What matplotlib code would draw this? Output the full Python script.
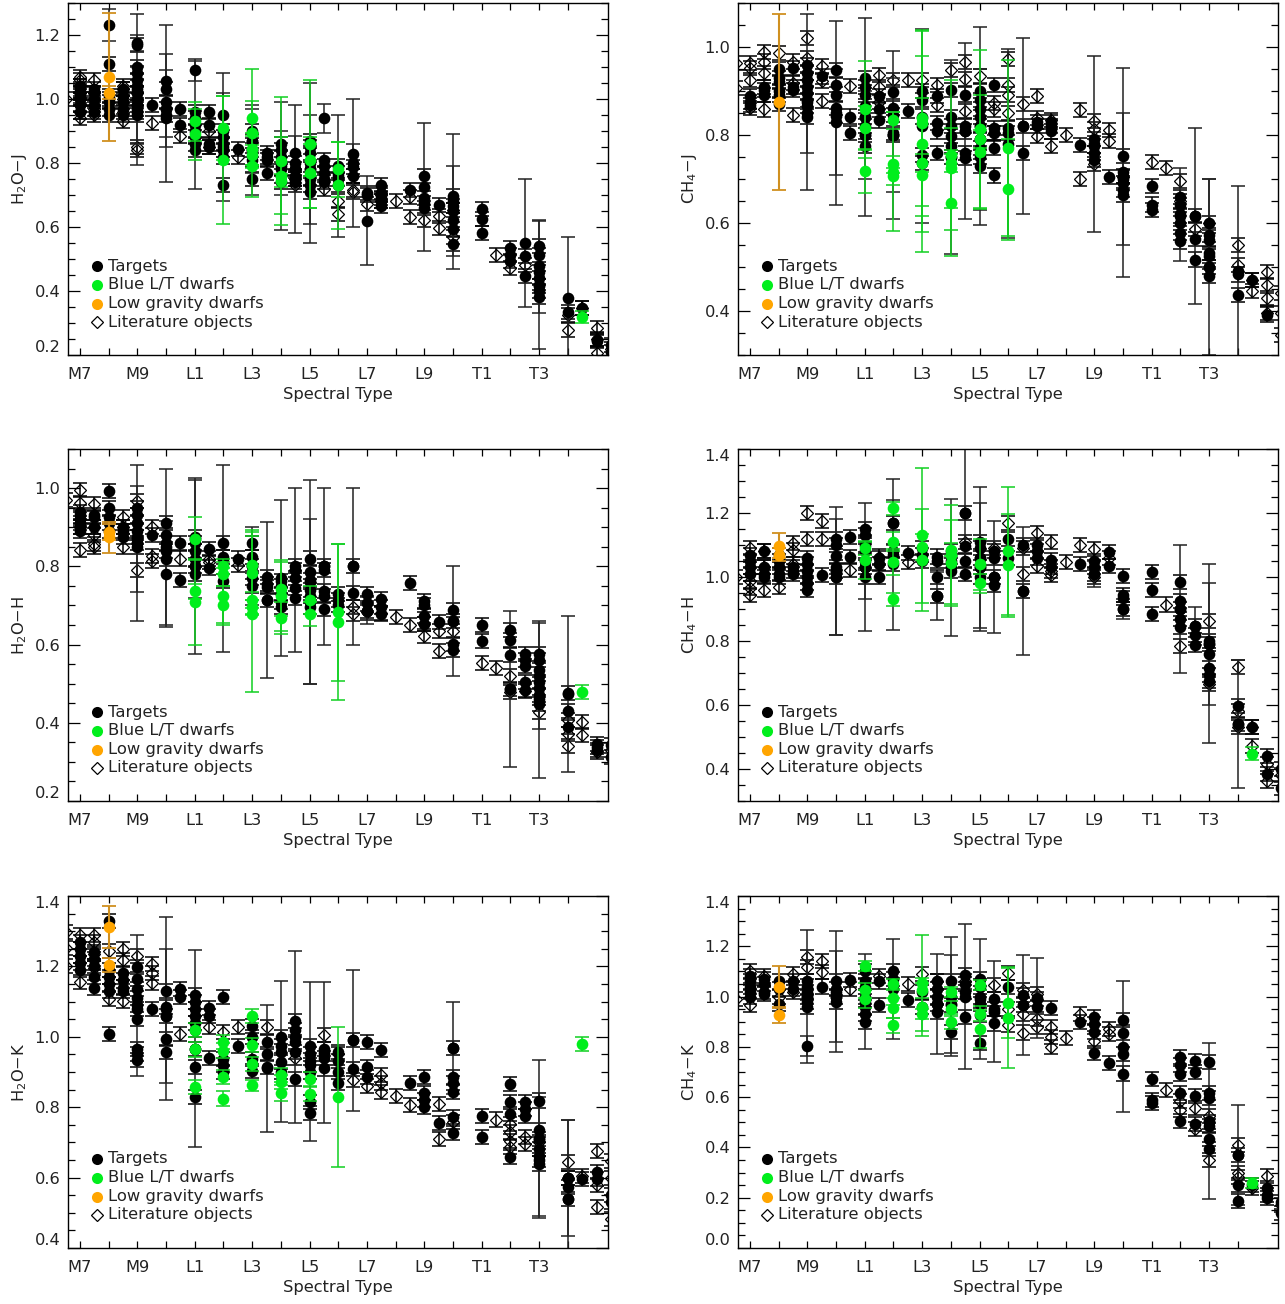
import matplotlib
matplotlib.use("Agg")
import matplotlib.pyplot as plt

plt.rcParams["mathtext.default"] = "regular"
plt.rcParams["font.family"] = "DejaVu Sans"

# spectral types: M7 = 0, M8 = 1 ... L0 = 3 ... T0 = 13
SPT_LABELS = ["M7", "", "M9", "", "L1", "", "L3", "", "L5", "", "L7", "", "L9", "", "T1", "", "T3", ""]
LEGEND_LABELS = ["Targets", "Blue L/T dwarfs", "Low gravity dwarfs", "Literature objects"]

# ---- H2O-J ----
H2OJ_T_SPT = [0, .5, 1, 1.5, 2, 2.5, 3, 3.5, 4, 4.5, 5, 5.5, 6, 6.5, 7, 7.5, 8, 8.5, 9, 9.5, 10, 10.5, 11.5, 12, 12.5, 13, 14, 15, 15.5, 16, 17, 17.5, 18, 18.5]
H2OJ_T_VAL = [[.96, .98, 1.0, 1.01, 1.02, 1.03, 1.04], [.96, .98, 1.0, 1.02, 1.03], [1.11, .95, .97, .99, 1.0, 1.01], [.95, .97, .99, 1.01, 1.03],
              [1.17, 1.10, 1.08, 1.06, 1.04, 1.02, 1.0, .98, .97, .96, .95], [.98], [1.03, .99, .97, .95], [.97, .92],
              [.96, .94, .90, .88, .86, .84], [.96, .92, .86, .85], [.90, .88, .86, .84, .82, .73], [.845], [.90, .87, .84, .81, .75], [.83, .82, .81, .77],
              [.86, .84, .82, .78, .76, .74], [.80, .78, .76, .75, .74], [.87, .85, .83, .78, .75, .73, .71], [.81, .79, .77, .75, .74], [.79, .77, .75, .73],
              [.7875, .76], [.706, .70], [.73, .705, .69, .68, .665], [.717], [.758, .69, .675, .66], [.67], [.696, .665, .623, .594, .548], [.656, .626, .58],
              [.534, .513, .493], [.51, .446], [.542, .513, .46, .44, .415, .40, .38], [.333], [.347], [.243, .248], [.23, .21]]
H2OJ_TW_X = [1, 2, 2, 2, 3, 3, 3, 4, 4, 5, 5, 6, 6, 7, 7, 7.5, 7.5, 8, 8, 8.5, 9, 9.5, 9.5, 10, 12, 13, 13, 15.5, 16, 16, 17]
H2OJ_TW_Y = [1.23, 1.03, 1.175, .98, 1.055, .94, .97, 1.09, .92, .95, .85, .87, .84, .79, .80, .78, .83, .80, .78, .94, .76, .828, .80, .62, .725, .68, .65, .55, .42, .477, .378]
H2OJ_TW_E = [.05, .235, .025, .12, .175, .20, .12, .035, .20, .13, .17, .10, .14, .20, .10, .20, .055, .25, .17, .045, .19, .03, .20, .14, .20, .21, .14, .20, .20, .145, .19]
H2OJ_B_X = [4, 4, 5, 5, 6, 6, 6, 6, 6, 7, 7, 7, 8, 8, 8, 9, 9, 17.5]
H2OJ_B_Y = [.93, .89, .91, .81, .94, .895, .845, .825, .79, .805, .76, .745, .86, .81, .77, .78, .73, .319]
H2OJ_B_E = [.06, .08, .10, .20, .155, .10, .05, .03, .095, .20, .12, .02, .20, .05, .11, .085, .135, .02]
H2OJ_G_X = [1, 1]
H2OJ_G_Y = [1.07, 1.02]
H2OJ_G_E = [.20, .02]
H2OJ_L_SPT = [-.5, 0, .5, 1.5, 2, 2.5, 3.5, 4.5, 5.5, 7.5, 8.5, 9, 9.5, 10, 10.5, 11, 11.5, 12, 12.5, 13, 14.5, 15, 15.5, 17, 17.5, 18, 18.5]
H2OJ_L_VAL = [[1.0], [.94, .96, .98, 1.0, 1.02, 1.04, 1.06, 1.07], [.95, .97, 1.0, 1.02, 1.06], [.93, .96, 1.0, 1.03, 1.04], [.85, .84, 1.02], [.925], [.885], [.90, .85],
              [.82], [.75, .73], [.72], [.68, .64], [.758, .717, .71], [.673], [.70, .68], [.68], [.694, .632], [.623], [.633, .597], [.654, .57], [.513], [.472], [.482],
              [.326, .279], [.347], [.284, .206, .25], [.22]]

# ---- CH4-J ----
CH4J_T_SPT = [0, .5, 1, 1.5, 2, 2.5, 3, 3.5, 4, 4.5, 5, 5.5, 6, 6.5, 7, 7.5, 8, 8.5, 9, 9.5, 10, 10.5, 11.5, 12, 12.5, 13, 14, 15, 15.5, 16, 17, 17.5, 18]
CH4J_T_VAL = [[.888, .876, .869], [.903, .89, .91], [.95, .93, .92, .90, .89, .87], [.952, .903, .91], [.96, .94, .925, .91, .895, .88, .865, .842], [.933],
              [.947, .914, .892, .861, .844], [.842, .805], [.93, .91, .89, .865, .84, .82, .80, .775], [.889, .858, .833], [.897, .861, .845, .805, .80], [.855],
              [.90, .88, .842, .755, .736], [.889, .827, .808, .76], [.903, .84, .82, .797, .774, .75], [.892, .821, .808, .76, .748], [.90, .88, .86, .84, .82, .79, .77, .75, .73],
              [.914, .816, .805, .77, .708], [.816, .805], [.82, .759], [.82, .83], [.808, .82, .83], [.778], [.79, .774, .76, .744], [.705], [.752, .706, .69, .675, .664],
              [.685, .642, .63], [.66, .64, .615, .60, .577, .558], [.615, .564, .517], [.573, .562, .532, .525, .50, .48], [.483, .437], [.471], [.392]]
CH4J_TW_X = [2, 2, 3, 3, 4, 4, 5, 5, 6, 7, 7.5, 8, 8, 9, 9.5, 12, 13, 13, 15, 15.5, 16, 16, 17]
CH4J_TW_Y = [.875, .85, .85, .83, .84, .80, .80, .80, .82, .75, .81, .82, .79, .78, .82, .78, .715, .70, .62, .616, .50, .60, .49]
CH4J_TW_E = [.20, .09, .21, .12, .225, .10, .19, .13, .22, .22, .20, .225, .16, .215, .20, .20, .237, .15, .106, .20, .20, .10, .195]
CH4J_B_X = [4, 4, 4, 5, 5, 5, 5, 6, 6, 6, 6, 6, 7, 7, 7, 7, 8, 8, 8, 9, 9]
CH4J_B_Y = [.858, .816, .719, .833, .733, .717, .706, .839, .827, .78, .736, .708, .755, .736, .725, .645, .814, .791, .762, .77, .677]
CH4J_B_E = [.11, .05, .05, .02, .02, .135, .02, .20, .21, .20, .02, .175, .17, .02, .09, .12, .18, .02, .13, .20, .115]
CH4J_G_X = [1]
CH4J_G_Y = [.874]
CH4J_G_E = [.20]
CH4J_L_SPT = [-.5, 0, .5, 1, 1.5, 2, 2.5, 3.5, 4.5, 5, 5.5, 6, 6.5, 7, 7.5, 8, 8.5, 9, 9.5, 10, 10.5, 11, 11.5, 12, 12.5, 13, 14, 14.5, 15, 15.5, 16, 17, 17.5, 18, 18.5]
CH4J_L_VAL = [[.964, .906], [.964, .926, .952, .861], [.988, .967, .941, .858], [.986], [.967, .918, .846], [1.02, .975], [.956, .922, .877], [.911], [.937, .91, .875], [.924], [.924],
              [.926], [.914, .869], [.947], [.966, .927, .854], [.935], [.873, .858, .805], [.973, .914, .892, .85], [.87], [.888, .839, .797], [.774, .835], [.80], [.856, .70],
              [.831, .814, .735], [.812, .786], [.705], [.739], [.725], [.695, .651], [.586], [.60], [.549, .505], [.47, .445], [.488, .458, .43, .395], [.44, .395, .346]]

# ---- H2O-H ----
H2OH_T_SPT = [0, .5, 1, 1.5, 2, 2.5, 3, 3.5, 4, 4.5, 5, 5.5, 6, 6.5, 7, 7.5, 8, 8.5, 9, 9.5, 10, 10.5, 11.5, 12, 12.5, 13, 14, 15, 15.5, 16, 17, 18, 18.5]
H2OH_T_VAL = [[.94, .93, .92, .91, .90, .89], [.93, .925, .90], [.993, .95, .925, .91, .89], [.89, .875, .90], [.95, .93, .91, .89, .875, .86, .85], [.88],
              [.91, .88, .86, .84, .82], [.86, .766], [.875, .86, .84, .82, .80, .78], [.844, .797], [.859, .825, .763], [.82], [.859, .825, .80, .77, .75], [.772, .755, .746, .714],
              [.763, .75, .73, .71, .695], [.80, .77, .745, .72], [.82, .785, .765, .74, .725, .695], [.80, .79, .738, .725, .69], [.73, .715, .70], [.80, .731], [.729, .705, .687],
              [.717, .695, .678], [.757], [.712, .70, .674, .653], [.657], [.689, .661, .602, .585], [.65, .61], [.638, .612, .574, .487], [.576, .56, .546, .504, .485],
              [.576, .56, .535, .504, .49, .47, .449], [.476, .429, .389], [.346, .33, .338], [.342, .312]]
H2OH_TW_X = [2, 2, 3, 3, 4, 4, 5, 6, 6.5, 7, 7.5, 8, 8, 8.5, 9.5, 10, 13, 15, 16, 16, 17]
H2OH_TW_Y = [.86, .87, .85, .78, .80, .87, .82, .80, .714, .77, .79, .76, .71, .80, .80, .687, .66, .487, .46, .52, .474]
H2OH_TW_E = [.20, .135, .20, .135, .225, .15, .24, .10, .20, .20, .21, .26, .21, .20, .20, .035, .14, .20, .20, .135, .20]
H2OH_B_X = [4, 4, 4, 5, 5, 5, 5, 6, 6, 6, 6, 6, 7, 7, 7, 8, 8, 9, 9, 17.5]
H2OH_B_Y = [.87, .736, .71, .80, .78, .725, .70, .804, .782, .714, .695, .678, .742, .725, .668, .714, .678, .683, .657, .478]
H2OH_B_E = [.055, .02, .11, .02, .03, .07, .05, .09, .105, .02, .02, .20, .07, .09, .04, .035, .03, .175, .20, .018]
H2OH_G_X = [1, 1]
H2OH_G_Y = [.887, .874]
H2OH_G_E = [.02, .04]
H2OH_L_SPT = [-.5, 0, .5, 1.5, 2, 2.5, 3.5, 4.5, 5.5, 7.5, 9.5, 10, 10.5, 11, 11.5, 12, 12.5, 13, 14, 14.5, 15, 15.5, 16, 17, 17.5, 18, 18.5]
H2OH_L_VAL = [[.97], [.995, .963, .90, .842], [.96, .90, .88, .857, .85], [.925, .90, .85], [.968, .79], [.90, .827, .814], [.82], [.82, .81], [.804], [.79], [.695, .678], [.682],
              [.68], [.67], [.649], [.653, .623], [.634, .583], [.634], [.553], [.54], [.52, .478], [.482], [.427], [.406, .372, .34], [.402, .368], [.325], [.33]]

# ---- CH4-H ----
CH4H_T_SPT = [0, .5, 1, 1.5, 2, 2.5, 3, 3.5, 4, 4.5, 5, 5.5, 6, 6.5, 7, 7.5, 8, 8.5, 9, 9.5, 10, 10.5, 11.5, 12, 12.5, 13, 14, 15, 15.5, 16, 17, 17.5, 18, 18.5]
CH4H_T_VAL = [[1.07, 1.05, 1.03, 1.01], [1.08, 1.01, 1.0, 1.03], [1.07, 1.05, 1.03, 1.01, 1.0], [1.02, 1.01, 1.03], [1.06, 1.04, 1.02, 1.0, .98, .96], [1.007], [1.12, 1.10, 1.065, 1.03, 1.02, 1.0],
              [1.125, 1.062], [1.15, 1.13, 1.10, 1.08, 1.05, 1.03, 1.0], [1.06, 1.04, 1.0], [1.17, 1.08, 1.04], [1.075], [1.09, 1.07, 1.05], [1.064, 1.05, 1.0, .942],
              [1.08, 1.05, 1.02], [1.20, 1.096, 1.05, 1.01], [1.11, 1.09, 1.06, 1.03, 1.0], [1.08, 1.06, 1.0, .976], [1.12, 1.06], [1.10, .957], [1.10, 1.08, 1.06], [1.054, 1.03],
              [1.04], [1.05, 1.03, 1.01], [1.078, 1.033], [1.004, .945, .935, .90], [1.016, .96, .885], [.983, .924, .90, .87, .844], [.846, .82, .789],
              [.80, .79, .716, .695, .675], [.597, .54], [.53], [.44, .384], [.40, .342]]
CH4H_TW_X = [3, 3, 4, 4, 5, 5, 6.5, 7, 7.5, 8, 8, 8.5, 9.5, 12, 13, 15, 15.5, 16, 16, 17]
CH4H_TW_Y = [1.02, 1.0, 1.03, 1.03, 1.07, 1.17, .94, 1.03, 1.20, 1.06, 1.03, 1.0, .957, 1.01, .90, .90, .846, .79, .76, .54]
CH4H_TW_E = [.20, .18, .20, .10, .235, .07, .075, .215, .20, .22, .20, .175, .20, .04, .03, .20, .06, .19, .28, .20]
CH4H_B_X = [4, 4, 5, 5, 5, 5, 6, 6, 6, 7, 7, 7, 8, 8, 9, 9, 17.5]
CH4H_B_Y = [1.09, 1.054, 1.215, 1.11, 1.047, .93, 1.13, 1.094, 1.054, 1.085, 1.07, 1.044, 1.04, .98, 1.082, 1.036, .448]
CH4H_B_E = [.02, .06, .02, .03, .04, .02, .21, .04, .16, .02, .155, .135, .08, .03, .20, .16, .02]
CH4H_G_X = [1, 1]
CH4H_G_Y = [1.098, 1.07]
CH4H_G_E = [.04, .02]
CH4H_L_SPT = [-.5, 0, .5, 1, 1.5, 2, 2.5, 3.5, 4.5, 5.5, 7.5, 8.5, 9, 9.5, 10, 10.5, 11, 11.5, 12, 12.5, 14.5, 15, 16, 17, 17.5, 18, 18.5]
CH4H_L_VAL = [[1.0], [1.09, .986, .966, .945], [1.08, 1.03, .96], [.97], [1.106, 1.085, 1.04], [1.20, 1.12], [1.176, 1.12], [1.023], [1.064], [1.047], [1.11], [1.09], [1.168], [1.09, 1.01],
              [1.137, 1.033], [1.11, 1.02, 1.007], [1.047], [1.10], [1.088, 1.0], [1.06], [.914], [.785], [.862, .665], [.72, .581, .53], [.53, .472], [.415, .363], [.38]]

# ---- H2O-K ----
H2OK_T_SPT = [0, .5, 1, 1.5, 2, 2.5, 3, 3.5, 4, 4.5, 5, 5.5, 6, 6.5, 7, 7.5, 8, 8.5, 9, 9.5, 10, 10.5, 11.5, 12, 12.5, 13, 14, 15, 15.5, 16, 17, 17.5, 18, 18.5]
H2OK_T_VAL = [[1.27, 1.25, 1.23, 1.21, 1.19], [1.24, 1.22, 1.20, 1.17, 1.14], [1.33, 1.19, 1.17, 1.15, 1.13, 1.009], [1.18, 1.16, 1.14, 1.13],
              [1.198, 1.165, 1.135, 1.11, 1.08, 1.05, .966, .95, .933], [1.08], [1.13, 1.084, 1.06, .994, .958], [1.136, 1.113],
              [1.12, 1.10, 1.08, 1.06, 1.04, 1.02, .966, .914, .829], [1.082, 1.059, .94], [1.113, .937, .92, .90], [.973], [1.03, 1.0, .937, .904], [.985, .95, .914],
              [1.0, .975, .928, .90], [1.046, 1.02, .985, .956, .88], [.975, .95, .92, .90, .814, .784], [.966, .94, .91], [.956, .93, .90, .87], [.99, .909], [.985, .914, .885],
              [.963], [.869], [.885, .84, .82, .80], [.756], [.968, .885, .87, .843, .772, .727], [.776, .715], [.865, .814, .781, .658], [.814, .795, .776],
              [.819, .734, .71, .682, .65, .64], [.60, .573, .54], [.597], [.616, .595], [.53, .55]]
H2OK_TW_X = [2, 3, 3, 4, 6.5, 7, 7.5, 8, 8.5, 9.5, 13, 16, 16, 17, 17]
H2OK_TW_Y = [1.09, 1.08, 1.06, .966, .91, .958, 1.0, .93, .955, .99, .968, .71, .66, .60, .54]
H2OK_TW_E = [.20, .26, .19, .28, .18, .20, .245, .225, .20, .20, .13, .225, .17, .165, .225]
H2OK_B_X = [4, 4, 4, 5, 5, 5, 5, 6, 6, 6, 6, 7, 7, 7, 8, 8, 9, 17.5]
H2OK_B_Y = [1.02, .964, .857, .985, .961, .885, .824, 1.06, .977, .923, .862, .892, .871, .841, .88, .838, .829, .98]
H2OK_B_E = [.02, .02, .02, .02, .02, .02, .022, .02, .02, .02, .015, .02, .02, .022, .02, .02, .20, .02]
H2OK_G_X = [1, 1]
H2OK_G_Y = [1.313, 1.205]
H2OK_G_E = [.06, .02]
H2OK_L_SPT = [-.5, 0, .5, 1, 1.5, 2, 2.5, 3.5, 4.5, 5, 5.5, 6.5, 7.5, 8.5, 9, 9.5, 10, 10.5, 11, 11.5, 12.5, 13, 14.5, 15, 15.5, 16, 17, 17.5, 18, 18.5]
H2OK_L_VAL = [[1.297, 1.252, 1.20], [1.288, 1.155], [1.288, 1.27, 1.235, 1.195], [1.245, 1.108], [1.25, 1.217, 1.103], [1.229], [1.207, 1.18, 1.153], [1.009], [1.027], [1.013], [1.027], [1.029], [.94],
              [1.006], [.95], [.876], [.86], [.892, .87, .843], [.833], [.805], [.81, .71], [.758], [.765], [.753, .73, .705, .687], [.715, .696], [.70], [.644, .60], [.605], [.675, .578, .516], [.648, .60, .483]]

# ---- CH4-K ----
CH4K_T_SPT = [0, .5, 1, 1.5, 2, 2.5, 3, 3.5, 4, 4.5, 5, 5.5, 6, 6.5, 7, 7.5, 8, 8.5, 9, 9.5, 10, 10.5, 11.5, 12, 12.5, 13, 14, 15, 15.5, 16, 17, 17.5, 18, 18.5]
CH4K_T_VAL = [[1.08, 1.06, 1.04, 1.02, 1.0], [1.07, 1.05, 1.02, 1.01], [1.06, 1.03, .97], [1.06, 1.03], [1.06, 1.04, 1.02, 1.0, .98, .96], [1.04],
              [1.06, 1.03, 1.0, .98], [1.065], [1.10, 1.06, 1.04, 1.0, .96, .93, .90], [1.06, .966], [1.10, 1.07], [.985], [1.02, .96], [1.06, 1.03, 1.0, .97, .94],
              [1.06, .966, .86], [1.085, 1.05, 1.02, .917], [1.07, 1.04, 1.0, .97, .925, .817], [.992, .95, .893], [1.038], [1.005, .966], [.992, .96], [.955], [.90],
              [.92, .89, .86, .777], [.734], [.906, .857, .77, .694], [.672, .588, .575], [.76, .727, .694, .615, .505], [.744, .70, .605, .495], [.74, .615, .595, .50, .485, .433, .393],
              [.37, .25, .188], [.25], [.237, .21, .198], [.184, .138]]
CH4K_TW_X = [2, 2, 3, 3, 4, 5, 6.5, 7, 7, 7.5, 8, 8.5, 9.5, 10, 13, 16, 17]
CH4K_TW_Y = [1.0, .805, 1.02, 1.0, .98, 1.03, .97, 1.0, .97, 1.0, .99, .94, .966, .995, .80, .505, .37]
CH4K_TW_E = [.265, .04, .24, .18, .19, .20, .20, .235, .195, .287, .24, .20, .20, .16, .26, .31, .20]
CH4K_B_X = [4, 4, 4, 5, 5, 5, 5, 6, 6, 6, 6, 7, 7, 7, 8, 8, 8, 9, 9, 17.5]
CH4K_B_Y = [1.12, 1.025, .99, 1.05, .995, .956, .886, 1.054, 1.025, .96, .932, 1.02, .952, .90, 1.045, .932, .87, .976, .915, .26]
CH4K_B_E = [.02, .03, .035, .02, .03, .04, .03, .192, .03, .115, .02, .02, .03, .03, .02, .03, .075, .14, .20, .02]
CH4K_G_X = [1, 1]
CH4K_G_Y = [1.04, .926]
CH4K_G_E = [.08, .03]
CH4K_L_SPT = [-.5, 0, .5, 1, 1.5, 2, 2.5, 3.5, 4.5, 5.5, 6, 6.5, 7.5, 8.5, 9, 9.5, 10, 10.5, 11, 11.5, 12, 12.5, 14.5, 15, 15.5, 16, 17, 17.5, 18, 18.5]
CH4K_L_VAL = [[.99], [1.10, .966], [1.08], [1.0], [1.09, 1.02], [1.157, 1.118], [1.14, 1.098], [1.03], [1.08], [1.05], [1.09], [1.06], [1.06], [1.045], [1.094, .95, .886], [1.025, .93, .857],
              [1.01, .91, .88], [.88, .84, .80], [.837], [.93], [.824], [.87, .85], [.63], [.584, .548], [.555, .475], [.526, .35], [.41, .30, .283], [.237], [.286], [.17]]


def expand(spt, vals):
    x, y = [], []
    for s, col in zip(spt, vals):
        for v in col:
            x.append(s)
            y.append(v)
    return x, y


def draw_panel(ax, tx, ty, t_err, wx, wy, we, bx, by, be, gx, gy, ge, lx, ly, ylim, ylabel):
    eb = dict(fmt="none", capsize=4.8, elinewidth=1.1, capthick=1.1)
    ax.errorbar(lx, ly, yerr=t_err, ecolor="black", **eb)
    ax.plot(lx, ly, "D", ms=6.0, mfc="none", mec="black", mew=0.9, ls="none")
    ax.errorbar(tx, ty, yerr=t_err, ecolor="black", **eb)
    ax.errorbar(wx, wy, yerr=we, ecolor="#222222", **eb)
    ax.plot(tx + wx, ty + wy, "o", ms=8.4, color="black", mew=0, ls="none")
    ax.errorbar(bx, by, yerr=be, ecolor="#10d020", **eb)
    ax.plot(bx, by, "o", ms=8.4, color="#00ee1c", mew=0, ls="none")
    ax.errorbar(gx, gy, yerr=ge, ecolor="#d09020", fmt="none", capsize=4.8, elinewidth=1.5, capthick=1.3)
    ax.plot(gx, gy, "o", ms=8.4, color="#ffa500", mew=0, ls="none")

    ax.set_xlim(-.418, 18.4)
    ax.set_ylim(*ylim)
    ax.set_xticks(range(18))
    ax.set_xticklabels(SPT_LABELS)
    ax.set_xlabel("Spectral Type", fontsize=11.7, color="#222222", labelpad=3.5)
    ax.set_ylabel(ylabel, fontsize=11.7, color="#222222")
    ax.yaxis.set_label_coords(-39 / 540, .5)

    first = round(ylim[0] * 5 + .499) / 5
    majors = [first + .2 * i for i in range(8) if first + .2 * i <= ylim[1] + 1e-6]
    minors = [ylim[0] + .05 * i for i in range(30) if ylim[0] + .05 * i <= ylim[1] + 1e-6]
    ax.set_yticks(majors)
    ax.set_yticklabels(["%.1f" % m for m in majors])
    ax.set_yticks(minors, minor=True)

    ax.tick_params(axis="x", which="major", direction="in", top=True, length=5, width=.9, labelsize=11.7, pad=8.8, labelcolor="#222222")
    ax.tick_params(axis="y", which="major", direction="in", right=True, length=8.5, width=.9, labelsize=11.7, pad=5.5, labelcolor="#222222")
    ax.tick_params(axis="y", which="minor", direction="in", right=True, length=5, width=.9)
    # labels on the frame edges sit inside the axis range
    for m, lab in zip(majors, ax.get_yticklabels()):
        if abs(m - ylim[0]) < 1e-6:
            lab.set_va("bottom")
        elif abs(m - ylim[1]) < 1e-6:
            lab.set_va("top")
    for sp in ax.spines.values():
        sp.set_linewidth(1.0)

    # legend block, placed by hand
    colors = ["black", "#00ee1c", "#ffa500"]
    rows = [263, 281.5, 300.5, 319]
    for i, (row, lab) in enumerate(zip(rows, LEGEND_LABELS)):
        yy = 1 - row / 352
        if i < 3:
            ax.plot([29 / 540], [yy], "o", ms=8.0, color=colors[i], mew=0, transform=ax.transAxes)
        else:
            ax.plot([29 / 540], [yy], "D", ms=6.0, mfc="none", mec="black", mew=.9, transform=ax.transAxes)
        ax.text(40.5 / 540, yy, lab, transform=ax.transAxes, fontsize=11.8, color="#222222", va="center", ha="left")


W, H = 1285, 1304
fig = plt.figure(figsize=(W / 100, H / 100), dpi=100)


def add_axes(left, top):
    return fig.add_axes([left / W, 1 - (top + 352) / H, 540 / W, 352 / H])


tx, ty = expand(H2OJ_T_SPT, H2OJ_T_VAL)
lx, ly = expand(H2OJ_L_SPT, H2OJ_L_VAL)
draw_panel(add_axes(68, 3), tx, ty, .022, H2OJ_TW_X, H2OJ_TW_Y, H2OJ_TW_E, H2OJ_B_X, H2OJ_B_Y, H2OJ_B_E, H2OJ_G_X, H2OJ_G_Y, H2OJ_G_E,
           lx, ly, (.2, 1.3), "H$_2$O$-$J")

tx, ty = expand(CH4J_T_SPT, CH4J_T_VAL)
lx, ly = expand(CH4J_L_SPT, CH4J_L_VAL)
draw_panel(add_axes(738, 3), tx, ty, .016, CH4J_TW_X, CH4J_TW_Y, CH4J_TW_E, CH4J_B_X, CH4J_B_Y, CH4J_B_E, CH4J_G_X, CH4J_G_Y, CH4J_G_E,
           lx, ly, (.3, 1.1), "CH$_4$$-$J")

tx, ty = expand(H2OH_T_SPT, H2OH_T_VAL)
lx, ly = expand(H2OH_L_SPT, H2OH_L_VAL)
draw_panel(add_axes(68, 449), tx, ty, .018, H2OH_TW_X, H2OH_TW_Y, H2OH_TW_E, H2OH_B_X, H2OH_B_Y, H2OH_B_E, H2OH_G_X, H2OH_G_Y, H2OH_G_E,
           lx, ly, (.2, 1.1), "H$_2$O$-$H")

tx, ty = expand(CH4H_T_SPT, CH4H_T_VAL)
lx, ly = expand(CH4H_L_SPT, CH4H_L_VAL)
draw_panel(add_axes(738, 449), tx, ty, .022, CH4H_TW_X, CH4H_TW_Y, CH4H_TW_E, CH4H_B_X, CH4H_B_Y, CH4H_B_E, CH4H_G_X, CH4H_G_Y, CH4H_G_E,
           lx, ly, (.3, 1.4), "CH$_4$$-$H")

tx, ty = expand(H2OK_T_SPT, H2OK_T_VAL)
lx, ly = expand(H2OK_L_SPT, H2OK_L_VAL)
draw_panel(add_axes(68, 896), tx, ty, .02, H2OK_TW_X, H2OK_TW_Y, H2OK_TW_E, H2OK_B_X, H2OK_B_Y, H2OK_B_E, H2OK_G_X, H2OK_G_Y, H2OK_G_E,
           lx, ly, (.4, 1.4), "H$_2$O$-$K")

tx, ty = expand(CH4K_T_SPT, CH4K_T_VAL)
lx, ly = expand(CH4K_L_SPT, CH4K_L_VAL)
draw_panel(add_axes(738, 896), tx, ty, .028, CH4K_TW_X, CH4K_TW_Y, CH4K_TW_E, CH4K_B_X, CH4K_B_Y, CH4K_B_E, CH4K_G_X, CH4K_G_Y, CH4K_G_E,
           lx, ly, (0, 1.4), "CH$_4$$-$K")

fig.savefig("out.png", dpi=100)
